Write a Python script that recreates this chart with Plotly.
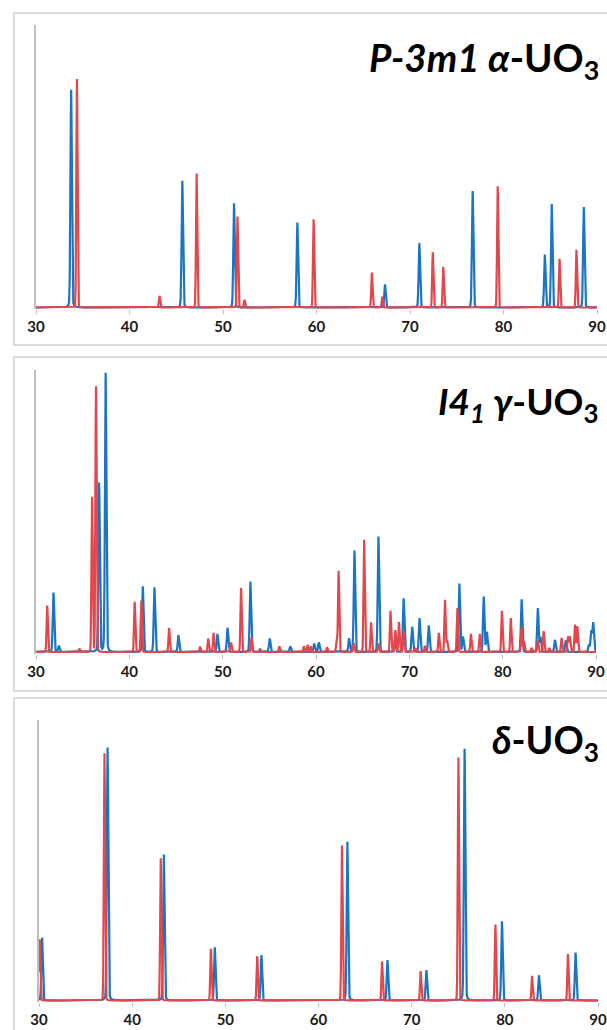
import numpy as np
import plotly.graph_objects as go

# ---- peak lists (2-theta in degrees, relative intensity in % of axis height) ----
# alpha-UO3 (P-3m1)
alpha_blue_pos = [33.76, 45.65, 51.18, 57.95, 67.32, 71.00, 76.70, 84.42, 85.16, 88.59]
alpha_blue_int = [77.1, 44.9, 36.9, 30.1, 8.2, 22.8, 41.2, 18.7, 36.6, 35.6]
alpha_red_pos = [34.38, 43.21, 47.18, 51.55, 52.30, 59.69, 65.92, 67.04, 72.44, 73.56, 79.38, 85.99, 87.80]
alpha_red_int = [80.9, 4.1, 47.4, 32.2, 2.7, 31.2, 12.4, 3.8, 19.5, 14.4, 42.9, 17.2, 20.4]

# gamma-UO3 (I4_1)
gamma_blue_pos = [31.87, 32.45, 36.76, 37.46, 41.44, 42.69, 45.26, 49.44, 50.52, 52.97,
                  55.04, 57.24, 59.81, 60.31, 63.54, 64.12, 66.69, 68.45, 69.39, 70.30,
                  71.09, 72.08, 75.36, 75.75, 77.97, 78.30, 82.03, 83.77, 84.05, 85.60,
                  86.76, 89.25, 89.49, 89.70]
gamma_blue_int = [21.1, 2.2, 59.9, 98.9, 23.3, 22.9, 6.0, 6.4, 8.6, 25.0,
                  4.8, 2.0, 3.0, 3.4, 4.8, 36.0, 40.9, 4.0, 19.0, 8.9,
                  12.0, 9.4, 24.2, 5.3, 19.6, 7.0, 18.7, 15.5, 5.2, 4.3,
                  4.1, 2.6, 7.3, 10.3]
gamma_red_pos = [31.20, 34.64, 36.01, 36.43, 40.57, 41.28, 44.26, 47.58, 48.45, 49.03,
                 50.90, 51.97, 53.09, 54.00, 56.08, 58.70, 59.10, 59.45, 61.18, 62.20,
                 62.42, 64.05, 65.16, 65.90, 66.70, 67.98, 68.51, 68.89, 69.40, 70.63,
                 71.67, 73.16, 73.82, 74.05, 75.15, 76.60, 77.55, 79.92, 80.87, 82.03,
                 82.28, 83.10, 83.77, 84.39, 85.00, 86.31, 87.00, 87.20, 87.75, 88.00]
gamma_red_int = [16.5, 1.2, 54.9, 94.2, 17.8, 18.2, 8.6, 1.9, 4.8, 6.8,
                 3.4, 22.7, 5.1, 1.2, 2.0, 2.0, 2.5, 2.0, 1.7, 3.0,
                 28.8, 3.1, 39.8, 10.5, 3.0, 14.6, 7.7, 10.6, 7.1, 1.4,
                 2.2, 6.8, 18.5, 4.0, 15.6, 6.4, 6.4, 14.6, 12.0, 8.9,
                 3.8, 1.5, 4.0, 7.4, 1.4, 5.0, 5.5, 5.5, 9.7, 9.1]

# delta-UO3
delta_blue_pos = [30.33, 37.36, 43.40, 48.87, 53.87, 63.10, 67.40, 71.58, 75.68, 79.69, 83.66, 87.59]
delta_blue_int = [22.4, 90.2, 52.0, 19.0, 16.2, 56.6, 14.4, 10.8, 89.7, 28.2, 9.0, 17.1]
delta_red_pos = [30.08, 37.03, 43.07, 48.45, 53.42, 62.52, 66.82, 70.96, 75.02, 78.99, 82.92, 86.77]
delta_red_int = [21.8, 88.1, 50.7, 18.4, 15.8, 55.3, 14.0, 10.5, 86.6, 27.1, 8.8, 16.6]

tick_vals = [30, 40, 50, 60, 70, 80, 90]
titles = ["<i>P-3m1 α</i>-UO<sub>3</sub>",
          "<i>I4<sub>1</sub> γ</i>-UO<sub>3</sub>",
          "<i>δ</i>-UO<sub>3</sub>"]

BLUE = "#1B75C2"
RED = "#E1474C"
W, H = 607, 1030

two_theta = np.arange(30.0, 90.0001, 0.01)


def profile(pos, inten, sigma, tail):
    """Pseudo-Voigt sum of peaks on the 2-theta grid."""
    y = np.zeros_like(two_theta)
    for p, h in zip(pos, inten):
        d = two_theta - p
        g = np.exp(-0.5 * (d / sigma) ** 2)
        lz = 1.0 / (1.0 + (d / (sigma * 1.2)) ** 2)
        y += h * ((1 - tail) * g + tail * lz)
    return y


panels = [
    (alpha_blue_pos, alpha_blue_int, alpha_red_pos, alpha_red_int),
    (gamma_blue_pos, gamma_blue_int, gamma_red_pos, gamma_red_int),
    (delta_blue_pos, delta_blue_int, delta_red_pos, delta_red_int),
]

# pixel geometry of each panel: (x of 30, x of 90, baseline y, axis top y, box top, box bottom)
geom = [
    (36, 597, 307.5, 25, 13, 345),
    (36, 596, 652.0, 370, 357, 691),
    (39, 598, 1000.5, 720, 698, 1040),
]
# top y and font size of each title
title_top = [32, 376, 715]
title_size = [38.5, 37, 37.5]

fig = go.Figure()
YMIN = -0.7

for i, ((bp, bi, rp, ri), (x0, x1, yb, yt, bt, bb)) in enumerate(zip(panels, geom)):
    n = "" if i == 0 else str(i + 1)
    fig.add_trace(go.Scatter(x=two_theta, y=profile(bp, bi, 0.075, 0.12),
                             mode="lines", line=dict(color=BLUE, width=2.2),
                             xaxis="x" + n, yaxis="y" + n, showlegend=False,
                             hoverinfo="skip"))
    fig.add_trace(go.Scatter(x=two_theta, y=profile(rp, ri, 0.065, 0.04),
                             mode="lines", line=dict(color=RED, width=2.2),
                             xaxis="x" + n, yaxis="y" + n, showlegend=False,
                             hoverinfo="skip"))

    span = yb - yt
    bottom_px = yb + span * (-YMIN) / 100.0
    ydom = [1 - bottom_px / H, 1 - yt / H]
    xdom = [x0 / W, x1 / W]

    fig.layout["xaxis" + n] = dict(
        domain=xdom, range=[30, 90], anchor="y" + n,
        tickvals=tick_vals, ticks="outside", ticklen=4, tickwidth=1,
        tickcolor="#BFBFBF", showline=False, showgrid=False, zeroline=False,
        tickfont=dict(family="Lato", size=15, color="#1A1A1A", weight=700),
        fixedrange=True,
    )
    fig.layout["yaxis" + n] = dict(
        domain=ydom, range=[YMIN, 100], anchor="x" + n,
        showticklabels=False, ticks="", showgrid=False, zeroline=False,
        showline=True, linecolor="#BFBFBF", linewidth=1.5,
        fixedrange=True,
    )

    # panel frame
    fig.add_shape(type="rect", xref="paper", yref="paper",
                  x0=14 / W, x1=1.05, y0=1 - bb / H, y1=1 - bt / H,
                  line=dict(color="#D0D0D0", width=1.5), fillcolor="rgba(0,0,0,0)",
                  layer="below")

    # panel title
    fig.add_annotation(xref="paper", yref="paper", x=601 / W, y=1 - title_top[i] / H,
                       xanchor="right", yanchor="top", showarrow=False,
                       text=titles[i],
                       font=dict(family="Lato", size=title_size[i], color="#000000", weight=700))

fig.update_layout(
    width=W, height=H, autosize=False,
    margin=dict(l=0, r=0, t=0, b=0, autoexpand=False),
    paper_bgcolor="white", plot_bgcolor="white",
    showlegend=False,
)

page_fix = (
    "document.documentElement.style.margin='0';"
    "document.documentElement.style.overflow='hidden';"
    "document.body.style.margin='0';"
    "document.body.style.padding='0';"
    "document.body.style.overflow='hidden';"
    "var gd=document.getElementById('{plot_id}');"
    "gd.style.width='607px';gd.style.height='1030px';"
    "Plotly.relayout(gd,{width:607,height:1030});"
)

fig.write_html("out.html", config={"responsive": False}, post_script=page_fix)
